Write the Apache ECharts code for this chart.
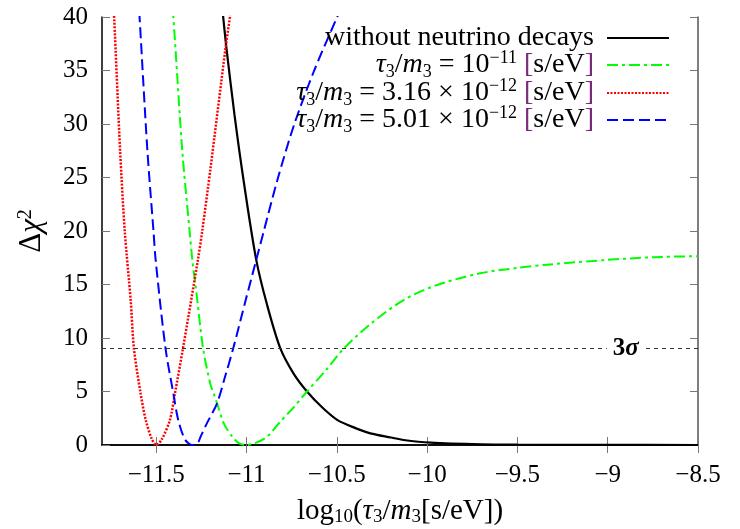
<!DOCTYPE html>
<html><head><meta charset="utf-8">
<script src="https://cdn.jsdelivr.net/npm/echarts@6/dist/echarts.min.js"></script>
<style>html,body{margin:0;padding:0;background:#fff}#c{width:740px;height:529px}</style>
</head><body><div id="c"></div>
<script>
// ---- data ----
const xTicks = [-11.5, -11, -10.5, -10, -9.5, -9, -8.5];
const yTicks = [0, 5, 10, 15, 20, 25, 30, 35, 40];
const seriesNames = ['without neutrino decays', 'tau=1e-11', 'tau=3.16e-12', 'tau=5.01e-12'];

const blackX = [-11.14, -11.129, -11.111, -11.066, -11.015, -10.946, -10.886, -10.812, -10.74, -10.665, -10.58, -10.498, -10.4, -10.314, -10.2, -10.13, -9.98, -9.7, -9.5, -9.0, -8.5];
const blackY = [41.8, 40, 37.1, 30.8, 24.6, 17.3, 13.1, 9.0, 6.7, 5.0, 3.5, 2.35, 1.6, 1.09, 0.7, 0.47, 0.22, 0.06, 0.03, 0.01, 0.0];

const greenX = [-11.43, -11.405, -11.356, -11.315, -11.30, -11.277, -11.24, -11.20, -11.177, -11.163, -11.125, -11.079, -11.04, -11.0, -10.95, -10.886, -10.812, -10.74, -10.665, -10.56, -10.462, -10.314, -10.13, -9.945, -9.706, -9.5, -9.337, -9.0, -8.75, -8.5];
const greenY = [45, 40, 27.6, 20, 17.3, 14.2, 9, 5.7, 4.6, 3.9, 2.0, 0.78, 0.15, 0, 0.2, 0.78, 2.2, 3.5, 5.0, 7.0, 9.0, 11.3, 13.55, 14.95, 16.05, 16.55, 16.85, 17.3, 17.55, 17.65];

const redX = [-11.75, -11.733, -11.70, -11.674, -11.641, -11.623, -11.588, -11.558, -11.525, -11.50, -11.47, -11.424, -11.396, -11.352, -11.269, -11.245, -11.199, -11.116, -11.092, -11.08];
const redY = [45, 40, 27.6, 20, 13.5, 9, 5, 2.34, 0.6, 0, 0.5, 2.34, 4.83, 9, 17.3, 20, 25.9, 37.1, 40, 42];

const blueX = [-11.61, -11.592, -11.549, -11.515, -11.503, -11.448, -11.405, -11.378, -11.34, -11.30, -11.27, -11.254, -11.22, -11.163, -11.12, -11.074, -11.005, -10.946, -10.904, -10.825, -10.735, -10.625, -10.498, -10.48];
const blueY = [45, 40, 27.6, 20, 17.3, 9, 4.83, 2.34, 0.5, 0, 0.2, 0.78, 2.0, 3.9, 6.3, 9, 13.5, 17.3, 20, 25, 30, 35, 40, 40.7];

const sigmaLevel = 9;
const sigmaLabelX = -8.9;

// ---- chart ----
const FONT = 'Liberation Serif';
const zip = (xs, ys) => xs.map((x, i) => [x, ys[i]]);
const fmtNum = v => (v < 0 ? '\u2212' : '') + Math.abs(v);

const mkRich = (fs) => ({
  i: { fontStyle: 'italic', fontFamily: FONT, fontSize: fs, lineHeight: 32 },
  sub: { fontFamily: FONT, fontSize: Math.round(fs * 0.66), lineHeight: 17, verticalAlign: 'bottom' },
  sup: { fontFamily: FONT, fontSize: Math.round(fs * 0.66), lineHeight: 15, verticalAlign: 'top' },
  br: { fontFamily: FONT, fontSize: fs, lineHeight: 32, color: '#7a2a7a' }
});

const legendLabels = {
  'without neutrino decays': 'without neutrino decays',
  'tau=1e-11': '{i|τ}{sub|3}/{i|m}{sub|3} = 10{sup|\u221211} {br|[}s/eV{br|]}',
  'tau=3.16e-12': '{i|τ}{sub|3}/{i|m}{sub|3} = 3.16 × 10{sup|\u221212} {br|[}s/eV{br|]}',
  'tau=5.01e-12': '{i|τ}{sub|3}/{i|m}{sub|3} = 5.01 × 10{sup|\u221212} {br|[}s/eV{br|]}'
};

const legendCenters = [38, 65, 93, 120];
const legends = seriesNames.map((n, k) => ({
  data: [n],
  right: 70,
  top: legendCenters[k] - 16,
  align: 'right',
  itemWidth: 62,
  itemHeight: 14,
  padding: 0,
  selectedMode: false,
  itemStyle: { opacity: 0 },
  formatter: name => legendLabels[name],
  textStyle: { fontFamily: FONT, fontSize: 28, lineHeight: 32, color: '#000', padding: [0, 8, 0, 0], rich: mkRich(28) }
}));

const axisTickStyle = { inside: true, length: 8, lineStyle: { color: '#777', width: 1 } };
const axisLineStyle = { show: true, lineStyle: { color: '#000', width: 1.5 } };

const mkSeries = (name, xs, ys, color, type, width) => ({
  name, type: 'line', data: zip(xs, ys), showSymbol: false, symbol: 'none',
  smooth: 0.3, clip: true,
  lineStyle: { color, type, width }, itemStyle: { color }
});

const sBlack = mkSeries(seriesNames[0], blackX, blackY, '#000000', 'solid', 2.2);
sBlack.markLine = {
  silent: true, symbol: 'none', animation: false,
  lineStyle: { color: '#333', type: [4, 4], width: 1 },
  label: { show: false },
  data: [{ yAxis: sigmaLevel }]
};
sBlack.markPoint = {
  silent: true, animation: false,
  symbol: 'rect', symbolSize: [38, 18], itemStyle: { color: '#fff' },
  label: { show: true, position: 'inside', formatter: '{a|3}{b|σ}',
    rich: { a: { fontFamily: FONT, fontSize: 25, fontWeight: 'bold', color: '#000' },
            b: { fontFamily: FONT, fontSize: 25, fontWeight: 'bold', fontStyle: 'italic', color: '#000' } } },
  data: [{ coord: [sigmaLabelX, sigmaLevel] }]
};

const option = {
  animation: false,
  backgroundColor: '#fff',
  grid: { left: 102, right: 42, top: 17, bottom: 84, containLabel: false, outerBoundsMode: 'none' },
  legend: legends,
  xAxis: [{
    type: 'value', min: -11.8, max: -8.5, position: 'bottom',
    axisLine: axisLineStyle,
    axisTick: Object.assign({ customValues: xTicks }, axisTickStyle),
    axisLabel: { customValues: xTicks, formatter: fmtNum, fontFamily: FONT, fontSize: 25, color: '#000', margin: 18 },
    splitLine: { show: false },
    name: 'log{sub|10}({i|τ}{sub|3}/{i|m}{sub|3}[s/eV])',
    nameLocation: 'middle', nameGap: 50,
    nameTextStyle: { fontFamily: FONT, fontSize: 29, lineHeight: 32, color: '#000', rich: mkRich(29) }
  }, {
    type: 'value', min: -11.8, max: -8.5, position: 'top',
    axisLine: axisLineStyle,
    axisTick: Object.assign({ customValues: xTicks }, axisTickStyle),
    axisLabel: { show: false }, splitLine: { show: false }
  }],
  yAxis: [{
    type: 'value', min: 0, max: 40, interval: 5,
    axisLine: axisLineStyle,
    axisTick: axisTickStyle,
    axisLabel: { fontFamily: FONT, fontSize: 25, color: '#000', margin: 14 },
    splitLine: { show: false },
    name: 'Δ{i|χ}{sup|2}',
    nameLocation: 'middle', nameGap: 54,
    nameTextStyle: { fontFamily: FONT, fontSize: 31, lineHeight: 32, color: '#000', rich: mkRich(31) }
  }, {
    type: 'value', min: 0, max: 40, interval: 5, position: 'right',
    axisLine: { show: true, lineStyle: { color: '#555', width: 1.5 } },
    axisTick: axisTickStyle,
    axisLabel: { show: false }, splitLine: { show: false }
  }],
  series: [
    sBlack,
    mkSeries(seriesNames[1], greenX, greenY, '#00ff00', [11, 4, 3, 4], 2),
    mkSeries(seriesNames[2], redX, redY, '#ff0000', [2, 1.5], 2.5),
    mkSeries(seriesNames[3], blueX, blueY, '#0000ff', [11, 5], 2)
  ]
};

const chart = echarts.init(document.getElementById('c'), null, { renderer: 'canvas' });
chart.setOption(option);
</script>
</body></html>
